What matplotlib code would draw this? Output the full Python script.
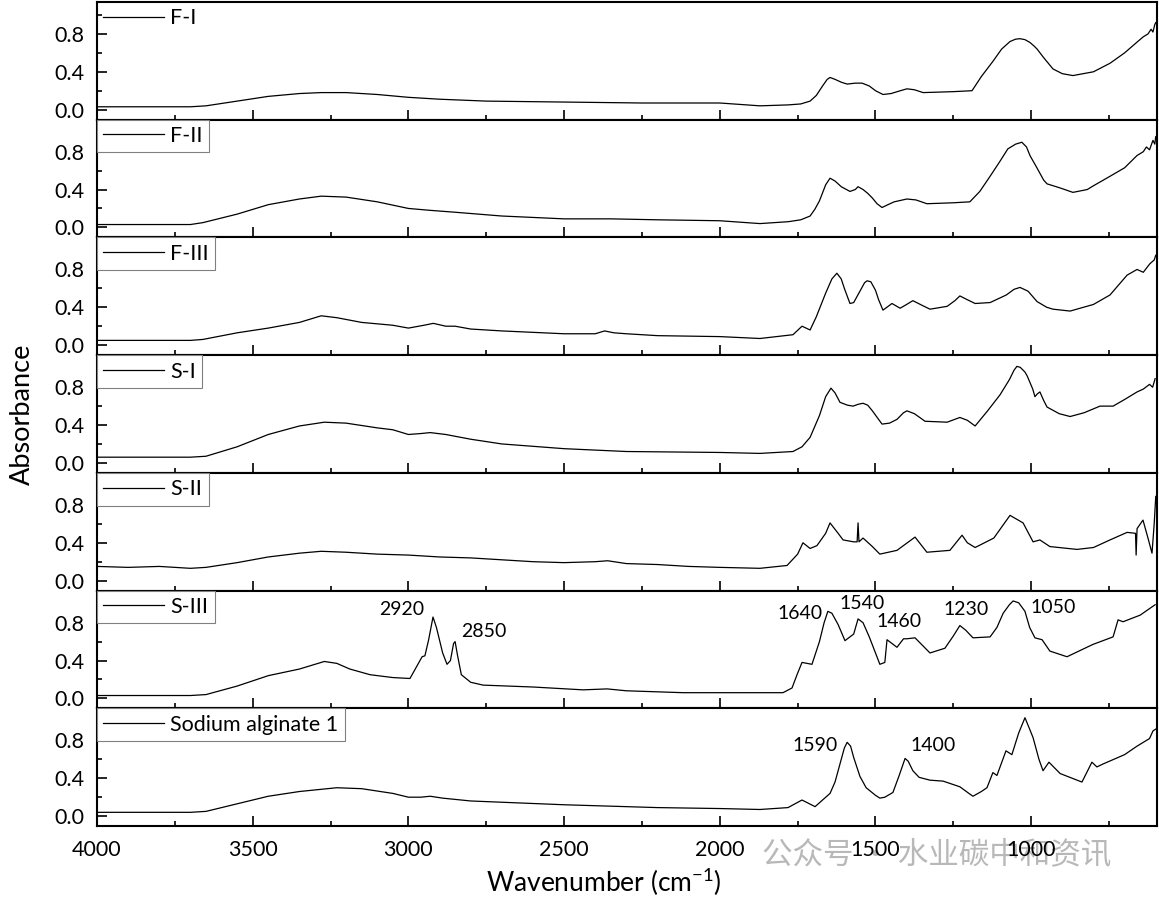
import numpy as np
import matplotlib.pyplot as plt
from matplotlib.ticker import MultipleLocator

plt.rcParams['font.family'] = ['Lato', 'DejaVu Sans']
plt.rcParams['mathtext.default'] = 'regular'

# sample names, top to bottom
names = ['F-I', 'F-II', 'F-III', 'S-I', 'S-II', 'S-III', 'Sodium alginate 1']

# spectra: wavenumber (cm-1) and absorbance
wn_f1 = [4000, 3850, 3700, 3650, 3550, 3450, 3350, 3280, 3200, 3100, 3000, 2900, 2750, 2500, 2250, 2000,
         1871, 1780, 1740, 1710, 1690, 1670, 1655, 1646, 1630, 1610, 1591, 1565, 1543, 1520, 1500, 1476,
         1450, 1420, 1399, 1375, 1347, 1250, 1190, 1160, 1123, 1095, 1068, 1050, 1036, 1020, 1004, 990,
         981, 960, 930, 900, 866, 800, 747, 700, 665, 640, 625, 615, 609, 603, 600]
ab_f1 = [0.03, 0.03, 0.03, 0.04, 0.09, 0.14, 0.17, 0.18, 0.18, 0.16, 0.13, 0.11, 0.09, 0.08, 0.07, 0.07,
         0.04, 0.05, 0.06, 0.09, 0.15, 0.25, 0.32, 0.34, 0.32, 0.29, 0.27, 0.28, 0.28, 0.25, 0.20, 0.16,
         0.17, 0.20, 0.22, 0.21, 0.18, 0.19, 0.20, 0.35, 0.51, 0.64, 0.72, 0.745, 0.75, 0.74, 0.71, 0.67,
         0.64, 0.55, 0.43, 0.38, 0.36, 0.40, 0.49, 0.60, 0.70, 0.77, 0.80, 0.85, 0.82, 0.90, 0.92]

wn_f2 = [4000, 3850, 3700, 3660, 3550, 3450, 3350, 3280, 3200, 3100, 3000, 2930, 2850, 2700, 2500, 2350,
         2200, 2000, 1871, 1780, 1740, 1710, 1695, 1680, 1660, 1646, 1630, 1610, 1582, 1565, 1556, 1540,
         1525, 1510, 1495, 1479, 1460, 1440, 1399, 1370, 1335, 1250, 1197, 1165, 1132, 1100, 1075, 1050,
         1030, 1015, 1004, 980, 960, 949, 910, 866, 820, 800, 747, 700, 660, 640, 630, 620, 609, 603, 600]
ab_f2 = [0.03, 0.03, 0.03, 0.05, 0.14, 0.24, 0.30, 0.33, 0.32, 0.27, 0.20, 0.18, 0.16, 0.12, 0.09, 0.09,
         0.08, 0.07, 0.04, 0.06, 0.08, 0.12, 0.19, 0.28, 0.45, 0.52, 0.49, 0.43, 0.38, 0.40, 0.43, 0.40,
         0.36, 0.31, 0.25, 0.21, 0.24, 0.27, 0.30, 0.29, 0.25, 0.26, 0.27, 0.38, 0.54, 0.70, 0.83, 0.88,
         0.90, 0.85, 0.76, 0.62, 0.50, 0.46, 0.42, 0.37, 0.40, 0.44, 0.54, 0.63, 0.76, 0.80, 0.85, 0.82,
         0.92, 0.88, 0.96]

wn_f3 = [4000, 3850, 3700, 3660, 3550, 3450, 3350, 3280, 3230, 3150, 3050, 3000, 2950, 2920, 2880, 2850,
         2800, 2700, 2500, 2400, 2370, 2340, 2300, 2200, 2000, 1871, 1765, 1736, 1710, 1690, 1660, 1640,
         1624, 1610, 1600, 1582, 1570, 1550, 1535, 1527, 1515, 1500, 1490, 1476, 1447, 1421, 1400, 1380,
         1350, 1325, 1270, 1245, 1229, 1205, 1180, 1132, 1080, 1055, 1036, 1010, 981, 950, 930, 875, 800,
         747, 692, 660, 640, 619, 605, 600]
ab_f3 = [0.05, 0.05, 0.05, 0.06, 0.13, 0.18, 0.24, 0.31, 0.29, 0.24, 0.21, 0.18, 0.21, 0.23, 0.20, 0.20,
         0.17, 0.15, 0.12, 0.12, 0.15, 0.13, 0.12, 0.10, 0.09, 0.07, 0.11, 0.20, 0.16, 0.30, 0.55, 0.70,
         0.76, 0.70, 0.60, 0.44, 0.45, 0.57, 0.66, 0.68, 0.67, 0.58, 0.48, 0.37, 0.44, 0.39, 0.43, 0.47,
         0.42, 0.38, 0.41, 0.47, 0.52, 0.48, 0.44, 0.45, 0.53, 0.59, 0.61, 0.57, 0.46, 0.40, 0.38, 0.36,
         0.43, 0.53, 0.74, 0.80, 0.77, 0.86, 0.90, 0.95]

wn_s1 = [4000, 3850, 3700, 3650, 3550, 3450, 3350, 3270, 3200, 3100, 3050, 3000, 2960, 2930, 2880, 2800,
         2700, 2500, 2300, 2000, 1871, 1765, 1736, 1710, 1680, 1660, 1643, 1630, 1614, 1590, 1572, 1555,
         1540, 1525, 1510, 1479, 1455, 1431, 1410, 1399, 1375, 1341, 1270, 1229, 1205, 1180, 1140, 1100,
         1070, 1055, 1046, 1035, 1020, 1013, 995, 988, 980, 972, 960, 949, 910, 875, 830, 779, 737, 700,
         660, 640, 620, 610, 602]
ab_s1 = [0.06, 0.06, 0.06, 0.07, 0.17, 0.30, 0.39, 0.43, 0.42, 0.37, 0.35, 0.30, 0.31, 0.32, 0.30, 0.25,
         0.20, 0.15, 0.12, 0.11, 0.10, 0.12, 0.17, 0.27, 0.50, 0.70, 0.79, 0.74, 0.64, 0.61, 0.60, 0.62,
         0.63, 0.61, 0.55, 0.41, 0.42, 0.46, 0.53, 0.55, 0.52, 0.44, 0.43, 0.48, 0.45, 0.39, 0.55, 0.72,
         0.88, 0.98, 1.02, 1.01, 0.96, 0.92, 0.78, 0.70, 0.73, 0.75, 0.66, 0.59, 0.52, 0.49, 0.53, 0.60,
         0.60, 0.67, 0.75, 0.78, 0.83, 0.80, 0.89]

wn_s2 = [4000, 3900, 3800, 3700, 3650, 3550, 3450, 3350, 3280, 3200, 3100, 3000, 2900, 2800, 2700, 2600,
         2500, 2400, 2360, 2300, 2200, 2150, 2100, 2000, 1871, 1784, 1750, 1733, 1710, 1688, 1660, 1646,
         1620, 1604, 1570, 1559, 1556, 1553, 1540, 1510, 1486, 1431, 1373, 1335, 1261, 1222, 1205, 1180,
         1120, 1068, 1026, 994, 972, 940, 853, 800, 747, 692, 665, 663, 660, 641, 625, 612, 605, 600]
ab_s2 = [0.15, 0.14, 0.15, 0.13, 0.14, 0.19, 0.25, 0.29, 0.31, 0.30, 0.28, 0.27, 0.25, 0.24, 0.22, 0.20,
         0.19, 0.20, 0.21, 0.18, 0.17, 0.16, 0.15, 0.14, 0.13, 0.16, 0.28, 0.40, 0.34, 0.37, 0.50, 0.61,
         0.50, 0.43, 0.41, 0.41, 0.61, 0.41, 0.45, 0.36, 0.28, 0.32, 0.46, 0.30, 0.32, 0.48, 0.40, 0.35,
         0.45, 0.69, 0.61, 0.41, 0.43, 0.36, 0.33, 0.35, 0.43, 0.51, 0.50, 0.27, 0.55, 0.64, 0.45, 0.29, 0.60, 0.89]

wn_s3 = [4000, 3850, 3700, 3650, 3550, 3450, 3350, 3270, 3230, 3188, 3123, 3050, 2995, 2956, 2947, 2935,
         2921, 2910, 2890, 2876, 2865, 2855, 2850, 2842, 2830, 2800, 2760, 2600, 2439, 2362, 2300, 2118,
         1871, 1797, 1768, 1752, 1736, 1704, 1680, 1665, 1653, 1640, 1620, 1598, 1570, 1556, 1540, 1520,
         1500, 1486, 1470, 1463, 1431, 1410, 1399, 1373, 1325, 1277, 1250, 1229, 1210, 1187, 1132, 1110,
         1090, 1070, 1058, 1040, 1020, 1005, 988, 965, 940, 885, 802, 737, 721, 705, 650, 602]
ab_s3 = [0.03, 0.03, 0.03, 0.04, 0.13, 0.24, 0.31, 0.39, 0.37, 0.31, 0.25, 0.22, 0.21, 0.44, 0.45, 0.62,
         0.86, 0.75, 0.48, 0.36, 0.40, 0.58, 0.60, 0.45, 0.25, 0.17, 0.14, 0.12, 0.09, 0.10, 0.08, 0.06,
         0.06, 0.06, 0.11, 0.25, 0.38, 0.36, 0.60, 0.80, 0.92, 0.90, 0.78, 0.61, 0.68, 0.84, 0.80, 0.65,
         0.48, 0.36, 0.38, 0.62, 0.54, 0.63, 0.63, 0.64, 0.48, 0.53, 0.66, 0.77, 0.72, 0.64, 0.65, 0.75,
         0.90, 0.99, 1.03, 1.01, 0.92, 0.75, 0.64, 0.62, 0.50, 0.44, 0.57, 0.65, 0.83, 0.81, 0.88, 0.99]

wn_sa = [4000, 3850, 3700, 3650, 3550, 3450, 3350, 3230, 3150, 3050, 3000, 2960, 2930, 2890, 2800, 2500,
         2200, 2000, 1871, 1781, 1736, 1694, 1646, 1630, 1610, 1600, 1591, 1580, 1570, 1550, 1530, 1500,
         1486, 1470, 1444, 1425, 1405, 1395, 1380, 1360, 1325, 1283, 1229, 1200, 1187, 1160, 1142, 1123,
         1110, 1081, 1062, 1040, 1020, 1005, 994, 975, 962, 943, 907, 837, 805, 789, 770, 700, 660, 620,
         609, 600]
ab_sa = [0.04, 0.04, 0.04, 0.05, 0.13, 0.21, 0.26, 0.30, 0.29, 0.24, 0.20, 0.20, 0.21, 0.19, 0.16, 0.12,
         0.09, 0.08, 0.07, 0.09, 0.17, 0.10, 0.24, 0.36, 0.60, 0.72, 0.78, 0.74, 0.62, 0.42, 0.30, 0.22,
         0.19, 0.20, 0.25, 0.42, 0.61, 0.58, 0.48, 0.41, 0.38, 0.37, 0.31, 0.24, 0.21, 0.26, 0.30, 0.46,
         0.43, 0.69, 0.65, 0.88, 1.04, 0.92, 0.83, 0.60, 0.48, 0.57, 0.45, 0.36, 0.57, 0.52, 0.55, 0.65,
         0.74, 0.82, 0.90, 0.92]

spectra = [(wn_f1, ab_f1), (wn_f2, ab_f2), (wn_f3, ab_f3), (wn_s1, ab_s1),
           (wn_s2, ab_s2), (wn_s3, ab_s3), (wn_sa, ab_sa)]

# peak labels: (panel index, text, x, y)
peak_labels = [(5, '2920', 3021, 0.94), (5, '2850', 2757, 0.71), (5, '1640', 1742, 0.90),
               (5, '1540', 1543, 1.00), (5, '1460', 1425, 0.81), (5, '1230', 1209, 0.94),
               (5, '1050', 930, 0.96), (6, '1590', 1694, 0.75), (6, '1400', 1315, 0.75)]

fig, axes = plt.subplots(7, 1, sharex=True, figsize=(11.59, 9.01), dpi=100)
plt.subplots_adjust(left=0.0837, right=0.998, top=0.998, bottom=0.0832, hspace=0)

# watermark, drawn under the axes so tick labels stay on top
fig.text(762 / 1159, 1 - 855 / 901, '公众号 · 水业碳中和资讯', fontsize=22, color='#b8b8b8',
         ha='left', va='center', family=['Noto Sans CJK SC', 'DejaVu Sans'], zorder=-5)

for i, ax in enumerate(axes):
    x, y = spectra[i]
    ax.plot(x, y, color='black', lw=0.9, label=names[i])
    ax.set_xlim(4000, 597)
    ax.set_ylim(-0.105, 1.14)
    ax.xaxis.set_major_locator(MultipleLocator(500))
    ax.xaxis.set_minor_locator(MultipleLocator(250))
    ax.set_yticks([0.0, 0.4, 0.8])
    ax.set_yticklabels(['0.0', '0.4', '0.8'])
    ax.yaxis.set_minor_locator(MultipleLocator(0.2))
    ax.tick_params(which='major', direction='in', length=7, width=1.2, labelsize=15.5, pad=9)
    ax.tick_params(which='minor', direction='in', length=3.5, width=1.2)
    ax.tick_params(axis='x', which='both', top=False)
    ax.tick_params(axis='x', pad=10)
    for s in ax.spines.values():
        s.set_linewidth(1.5)
    leg = ax.legend(loc='upper left', bbox_to_anchor=(0, 1.0), borderaxespad=0, fontsize=15.5,
                    handlelength=2.8, handletextpad=0.3, fancybox=False, frameon=(i != 0),
                    borderpad=0.3, framealpha=1)
    if i != 0:
        leg.get_frame().set_edgecolor('#808080')
        leg.get_frame().set_linewidth(0.8)

for i, txt, xv, yv in peak_labels:
    axes[i].text(xv, yv, txt, fontsize=14, ha='center', va='center')

fig.text(604 / 1159, 1 - 882 / 901, 'Wavenumber (cm$^{-1}$)', fontsize=19, ha='center', va='center')
fig.text(22 / 1159, 1 - 414 / 901, 'Absorbance', fontsize=19.5, rotation=90, ha='center', va='center')

plt.savefig('out.png', dpi=100)
